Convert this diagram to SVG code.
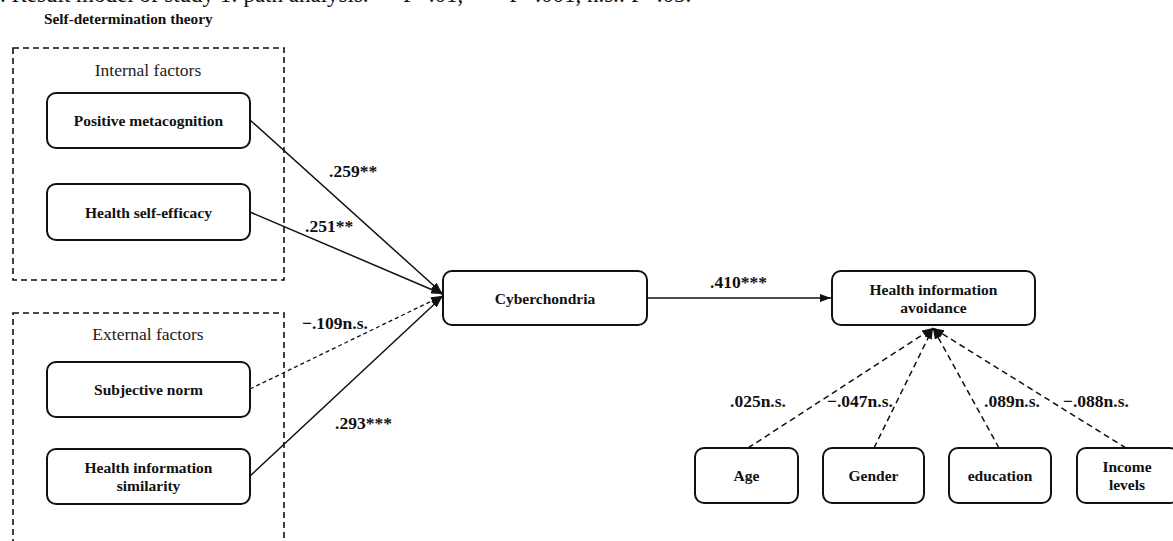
<svg xmlns="http://www.w3.org/2000/svg" width="1173" height="541" viewBox="0 0 1173 541">
<style>
.cap{font-family:"Liberation Serif","Times New Roman",serif;font-size:23px;fill:#111}
.title{font-family:"Liberation Serif","Times New Roman",serif;font-size:15.3px;font-weight:bold;fill:#111}
.grp{font-family:"Liberation Serif","Times New Roman",serif;font-size:17.5px;fill:#222}
.nt{font-family:"Liberation Serif","Times New Roman",serif;font-size:15.5px;font-weight:bold;fill:#111;text-anchor:middle}
.co{font-family:"Liberation Serif","Times New Roman",serif;font-size:17.5px;font-weight:bold;fill:#111}
.box{fill:#fff;stroke:#111;stroke-width:2}
.gbox{fill:none;stroke:#111;stroke-width:1.6;stroke-dasharray:6 4}
.ln{fill:none;stroke:#111;stroke-width:1.5}
.dl{fill:none;stroke:#111;stroke-width:1.5;stroke-dasharray:6 4}
.dl2{fill:none;stroke:#111;stroke-width:1.3;stroke-dasharray:4 3}
</style>
<defs>
<marker id="ah" markerUnits="userSpaceOnUse" markerWidth="11" markerHeight="8" refX="11" refY="4" orient="auto">
<path d="M0,0 L11,4 L0,8 z" fill="#111"/>
</marker>
</defs>
<rect width="1173" height="541" fill="#fff"/>
<text class="cap" x="0" y="2">. Result model of study 1: path analysis. ** P&lt;.01, *** P&lt;.001, n.s.: P&gt;.05.</text>
<text class="title" x="44" y="24">Self-determination theory</text>

<g id="internal-factors">
<rect class="gbox" x="13" y="48" width="271" height="232"/>
<text class="grp" x="148" y="76" text-anchor="middle">Internal factors</text>
</g>
<g id="external-factors">
<rect class="gbox" x="13" y="313" width="271" height="260"/>
<text class="grp" x="148" y="340" text-anchor="middle">External factors</text>
</g>

<g id="connectors">
<line class="ln" x1="250" y1="120" x2="442" y2="293" marker-end="url(#ah)"/>
<line class="ln" x1="250" y1="212" x2="442" y2="294" marker-end="url(#ah)"/>
<line class="dl2" x1="250" y1="389" x2="442" y2="296" marker-end="url(#ah)"/>
<line class="ln" x1="250" y1="476" x2="442" y2="297" marker-end="url(#ah)"/>
<line class="ln" x1="647" y1="298" x2="831" y2="298" marker-end="url(#ah)"/>
<line class="dl" x1="748" y1="448" x2="933" y2="328" marker-end="url(#ah)"/>
<line class="dl" x1="874" y1="448" x2="933" y2="328" marker-end="url(#ah)"/>
<line class="dl" x1="999" y1="448" x2="933" y2="328" marker-end="url(#ah)"/>
<line class="dl" x1="1126" y1="448" x2="933" y2="328" marker-end="url(#ah)"/>
<text class="co" x="329" y="177">.259**</text>
<text class="co" x="305" y="232">.251**</text>
<text class="co" x="302" y="329">−.109n.s.</text>
<text class="co" x="335" y="429">.293***</text>
<text class="co" x="710" y="288">.410***</text>
<text class="co" x="730" y="407">.025n.s.</text>
<text class="co" x="827" y="407">−.047n.s.</text>
<text class="co" x="984" y="407">.089n.s.</text>
<text class="co" x="1063" y="407">−.088n.s.</text>
</g>

<g id="positive-metacognition">
<rect class="box" x="47" y="93" width="203" height="55" rx="9"/>
<text class="nt" x="148.5" y="126">Positive metacognition</text>
</g>
<g id="health-self-efficacy">
<rect class="box" x="47" y="184" width="203" height="56" rx="9"/>
<text class="nt" x="148.5" y="218">Health self-efficacy</text>
</g>
<g id="subjective-norm">
<rect class="box" x="47" y="362" width="203" height="55" rx="9"/>
<text class="nt" x="148.5" y="395">Subjective norm</text>
</g>
<g id="health-information-similarity">
<rect class="box" x="47" y="449" width="203" height="55" rx="9"/>
<text class="nt" x="148.5" y="473">Health information</text>
<text class="nt" x="148.5" y="491">similarity</text>
</g>
<g id="cyberchondria">
<rect class="box" x="443" y="271" width="204" height="54" rx="9"/>
<text class="nt" x="545" y="304">Cyberchondria</text>
</g>
<g id="health-information-avoidance">
<rect class="box" x="832" y="271" width="203" height="54" rx="9"/>
<text class="nt" x="933.5" y="295">Health information</text>
<text class="nt" x="933.5" y="313">avoidance</text>
</g>
<g id="age">
<rect class="box" x="695" y="448" width="103" height="55" rx="9"/>
<text class="nt" x="746.5" y="481">Age</text>
</g>
<g id="gender">
<rect class="box" x="823" y="448" width="101" height="55" rx="9"/>
<text class="nt" x="873.5" y="481">Gender</text>
</g>
<g id="education">
<rect class="box" x="949" y="448" width="102" height="55" rx="9"/>
<text class="nt" x="1000" y="481">education</text>
</g>
<g id="income-levels">
<rect class="box" x="1077" y="448" width="102" height="55" rx="9"/>
<text class="nt" x="1127" y="472">Income</text>
<text class="nt" x="1127" y="490">levels</text>
</g>
</svg>
